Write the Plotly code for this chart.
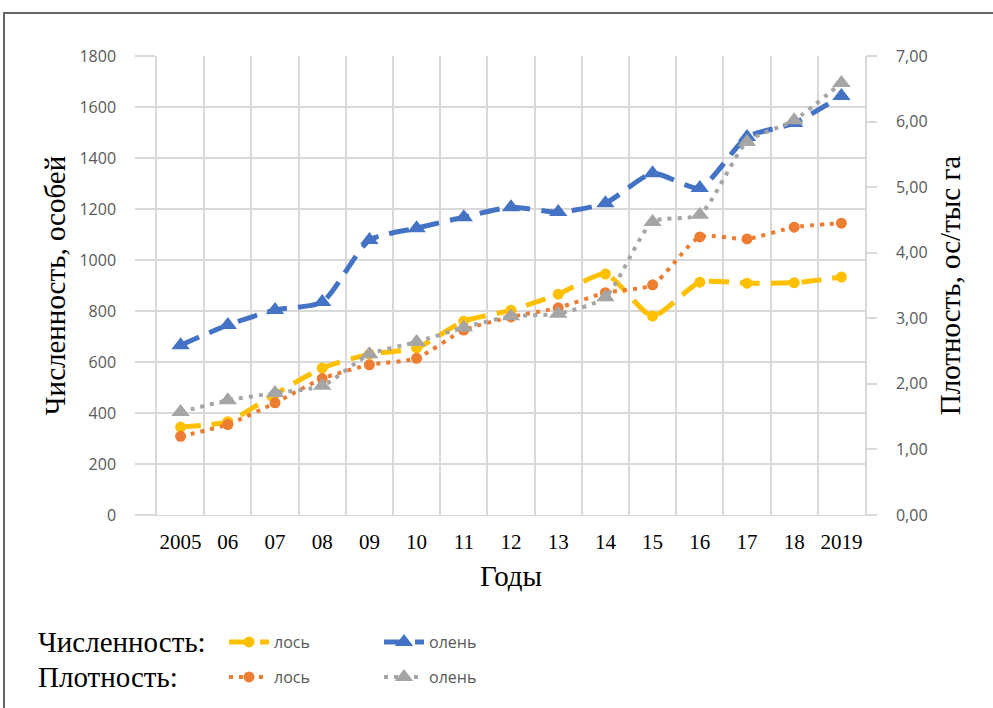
import plotly.graph_objects as go

years = ["2005", "06", "07", "08", "09", "10", "11", "12", "13", "14", "15", "16", "17", "18", "2019"]
moose_count = [345, 366, 474, 576, 631, 655, 760, 803, 866, 945, 780, 913, 909, 911, 933]
deer_count = [666, 745, 804, 835, 1078, 1125, 1168, 1207, 1188, 1223, 1340, 1282, 1482, 1537, 1643]
moose_density = [1.20, 1.38, 1.71, 2.08, 2.29, 2.39, 2.82, 3.02, 3.16, 3.39, 3.51, 4.24, 4.21, 4.39, 4.45]
deer_density = [1.57, 1.75, 1.86, 1.97, 2.45, 2.64, 2.86, 3.03, 3.07, 3.32, 4.47, 4.58, 5.69, 6.02, 6.59]

x = list(range(len(years)))

SERIF = "Liberation Serif, Times New Roman, serif"
SANS = "Open Sans, Arial, sans-serif"
GRID = "#d9d9d9"

OFF = 0  # body margin removed by post_script
W, H = 993, 708
# target plot area on screen: x 157..865, y 56..515
L, T = 157 - OFF, 56 - OFF
pw, ph = 708, 459
R, B = W - L - pw, H - T - ph


def px_x(p):
    return (p - OFF - L) / pw


def px_y(p):
    return (T + ph - (p - OFF)) / ph


fig = go.Figure()

fig.add_trace(go.Scatter(
    x=x, y=moose_count, name="лось", yaxis="y", legend="legend",
    mode="lines+markers", line=dict(color="#FFC000", width=5, dash="20px,11px", shape="spline", smoothing=0.6),
    marker=dict(symbol="circle", size=11, color="#FFC000")))
fig.add_trace(go.Scatter(
    x=x, y=deer_count, name="олень", yaxis="y", legend="legend",
    mode="lines+markers", line=dict(color="#4472C4", width=5, dash="20px,11px", shape="spline", smoothing=0.6),
    marker=dict(symbol="triangle-up", size=16, color="#4472C4")))
fig.add_trace(go.Scatter(
    x=x, y=moose_density, name="лось", yaxis="y2", legend="legend2",
    mode="lines+markers", line=dict(color="#ED7D31", width=4, dash="4px,6px", shape="spline", smoothing=0.6),
    marker=dict(symbol="circle", size=11, color="#ED7D31")))
fig.add_trace(go.Scatter(
    x=x, y=deer_density, name="олень", yaxis="y2", legend="legend2",
    mode="lines+markers", line=dict(color="#A5A5A5", width=4, dash="4px,6px", shape="spline", smoothing=0.6),
    marker=dict(symbol="triangle-up", size=16, color="#A5A5A5")))

legend_common = dict(
    orientation="h", xanchor="left", yanchor="middle",
    font=dict(family=SANS, size=16, color="#595959"),
    bgcolor="rgba(0,0,0,0)", entrywidth=100, itemwidth=40,
    traceorder="normal",
)

fig.update_layout(
    width=W, height=H,
    margin=dict(l=L, r=R, t=T, b=B),
    paper_bgcolor="white", plot_bgcolor="white",
    separators=", ",
    showlegend=True,
    xaxis=dict(
        range=[-0.5, len(years) - 0.5],
        tickvals=x, ticktext=years,
        showgrid=False, zeroline=False,
        showline=True, linecolor=GRID, linewidth=1,
        ticks="", ticklabelstandoff=8,
        tickfont=dict(family=SERIF, size=21, color="black"),
        minor=dict(tick0=0.5, dtick=1, showgrid=True, gridcolor=GRID, gridwidth=1.5),
        title=dict(text="Годы", font=dict(family=SERIF, size=29, color="black"), standoff=12),
    ),
    yaxis=dict(
        range=[0, 1800], dtick=200,
        showgrid=True, gridcolor=GRID, gridwidth=1.5, zeroline=False,
        showline=True, linecolor=GRID, linewidth=1.5,
        ticks="outside", ticklen=20, tickcolor=GRID, tickwidth=1.5,
        ticklabelstandoff=16,
        tickfont=dict(family=SANS, size=16, color="#595959"),
        title=dict(text="Численность, особей", font=dict(family=SERIF, size=29, color="black"), standoff=5),
    ),
    yaxis2=dict(
        range=[0, 7], dtick=1, tickformat=".2f",
        overlaying="y", side="right",
        showgrid=False, zeroline=False,
        showline=True, linecolor=GRID, linewidth=1.5,
        ticks="outside", ticklen=10, tickcolor=GRID, tickwidth=1.5,
        ticklabelstandoff=16,
        tickfont=dict(family=SANS, size=16, color="#595959"),
        title=dict(text="Плотность, ос/тыс га", font=dict(family=SERIF, size=29, color="black"), standoff=13),
    ),
    legend=dict(x=px_x(224), y=px_y(642), **legend_common),
    legend2=dict(x=px_x(224), y=px_y(677), **legend_common),
    annotations=[
        dict(text="Численность:", xref="paper", yref="paper", x=px_x(36), y=px_y(642),
             xanchor="left", yanchor="middle", showarrow=False,
             font=dict(family=SERIF, size=29, color="black")),
        dict(text="Плотность:", xref="paper", yref="paper", x=px_x(36), y=px_y(677),
             xanchor="left", yanchor="middle", showarrow=False,
             font=dict(family=SERIF, size=29, color="black")),
    ],
    shapes=[
        dict(type="path", xref="paper", yref="paper",
             path=f"M {px_x(4)},{px_y(H + 10)} L {px_x(4)},{px_y(13)} L {px_x(W + 10)},{px_y(13)}",
             line=dict(color="#666666", width=2)),
    ],
)

fig.write_html("out.html", config={"displayModeBar": False},
               post_script="document.body.style.margin='0';")
